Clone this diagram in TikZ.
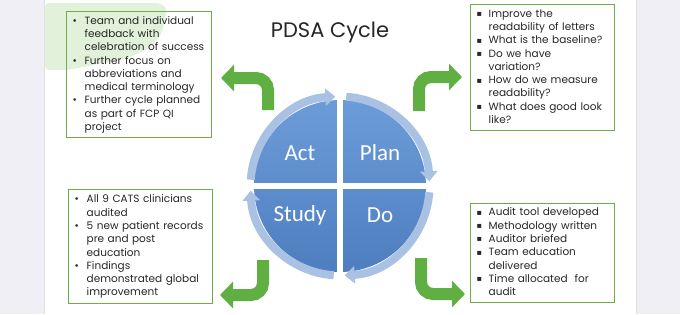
\documentclass[tikz,border=0pt]{standalone}
\usepackage{fontspec}
\setmainfont{Poppins}
\newfontfamily\labelfont{Carlito}
\newfontfamily\symfont{DejaVu Sans}
\usetikzlibrary{arrows.meta}

\definecolor{sidegrey}{HTML}{F0EFF5}
\definecolor{brushgreen}{HTML}{E1F1DA}
\definecolor{boxgreen}{HTML}{70AD47}
\definecolor{arrowgreen}{HTML}{5FAF42}
\definecolor{quadtop}{HTML}{6C9CD8}
\definecolor{quadbottom}{HTML}{4F7EC0}
\definecolor{ringblue}{HTML}{A9C1E3}
\definecolor{inktext}{HTML}{262626}

\newcommand{\rb}{\textbullet}
\newcommand{\sqb}{{\symfont\fontsize{8}{8}\selectfont\raisebox{0.6pt}{\char"25AA}}}

\tikzset{
  notebox/.style={draw=boxgreen, line width=1.4pt, anchor=north west, inner xsep=6pt, inner ysep=0pt,
    align=left, text=inktext, font=\fontsize{10.5}{13.3}\selectfont},
  bentarrow/.style={draw=arrowgreen, line width=12pt, rounded corners=12pt, -{Triangle[width=26pt,length=13pt]}},
  ringarrow/.style={draw=ringblue, line width=8pt, -{Triangle[width=17pt,length=10pt]}},
  quadlabel/.style={text=white, font=\labelfont\fontsize{23}{23}\selectfont},
}

\begin{document}
\begin{tikzpicture}[x=1pt, y=1pt]
  \useasboundingbox (0,0) rectangle (680,-314);

  % 1. slide background
  \fill[sidegrey] (0,0) rectangle (44,-314);
  \fill[sidegrey] (636,0) rectangle (680,-314);
  \draw[black!12] (44,0) -- (44,-314);
  \draw[black!12] (636,0) -- (636,-314);
  \fill[brushgreen, rounded corners=4pt] (45,-3) -- (160,-3) -- (167,-8) -- (165,-22) -- (160,-36)
    -- (150,-48) -- (128,-58) -- (98,-64) -- (68,-70) -- (45,-70) -- cycle;

  % 2. title
  \node[font=\fontsize{21}{21}\selectfont, text=inktext] (title) at (330,-32) {PDSA Cycle};

  % 3. cycle wheel
  \coordinate (wheel) at (340,-186);
  \shade[top color=quadtop, bottom color=quadbottom] (wheel) circle (86);
  \draw[white, line width=6pt] ([yshift=88pt]wheel) -- ([yshift=-88pt]wheel);
  \draw[white, line width=6pt] ([xshift=-88pt]wheel) -- ([xshift=88pt]wheel);
  \foreach \a in {90,0,-90,-180}
    \draw[ringarrow] (wheel) ++(\a+86:89.5) arc[start angle=\a+86, end angle=\a+3, radius=89.5];

  \node[quadlabel] (act) at (300,-153) {Act};
  \node[quadlabel] (plan) at (380,-153) {Plan};
  \node[quadlabel] (study) at (300,-215) {Study};
  \node[quadlabel] (do) at (380,-215) {Do};

  % 4. note boxes
  \node[notebox, text width=133pt, minimum height=126pt] (actbox) at (66,-11) {\noindent
    \begin{tabular}{@{}p{9pt}@{\hspace{3pt}}l@{}}
      \rb & Team and individual\\
          & feedback with\\
          & celebration of success\\
      \rb & Further focus on\\
          & abbreviations and\\
          & medical terminology\\
      \rb & Further cycle planned\\
          & as part of FCP QI\\
          & project
    \end{tabular}};
  \node[notebox, text width=132pt, minimum height=126pt] (planbox) at (470,-4) {\noindent
    \begin{tabular}{@{}p{9pt}@{\hspace{3pt}}l@{}}
      \sqb & Improve the\\
           & readability of letters\\
      \sqb & What is the baseline?\\
      \sqb & Do we have\\
           & variation?\\
      \sqb & How do we measure\\
           & readability?\\
      \sqb & What does good look\\
           & like?
    \end{tabular}};
  \node[notebox, text width=132pt, minimum height=114pt] (studybox) at (68,-189) {\noindent
    \begin{tabular}{@{}p{9pt}@{\hspace{3pt}}l@{}}
      \rb & All 9 CATS clinicians\\
          & audited\\
      \rb & 5 new patient records\\
          & pre and post\\
          & education\\
      \rb & Findings\\
          & demonstrated global\\
          & improvement
    \end{tabular}};
  \node[notebox, text width=132pt, minimum height=99pt] (dobox) at (470,-203) {\noindent
    \begin{tabular}{@{}p{9pt}@{\hspace{3pt}}l@{}}
      \sqb & Audit tool developed\\
      \sqb & Methodology written\\
      \sqb & Auditor briefed\\
      \sqb & Team education\\
           & delivered\\
      \sqb & Time allocated\ \ for\\
           & audit
    \end{tabular}};

  % 5. bent arrows towards the boxes
  \coordinate (act tail) at (268,-110);   \coordinate (act tip) at (221,-78);
  \coordinate (plan tail) at (419,-111);  \coordinate (plan tip) at (462,-77);
  \coordinate (study tail) at (263,-260); \coordinate (study tip) at (220,-295);
  \coordinate (do tail) at (421,-258);    \coordinate (do tip) at (465,-294);
  \draw[bentarrow] (act tail) |- (act tip);
  \draw[bentarrow] (plan tail) |- (plan tip);
  \draw[bentarrow] (study tail) |- (study tip);
  \draw[bentarrow] (do tail) |- (do tip);
\end{tikzpicture}
\end{document}
